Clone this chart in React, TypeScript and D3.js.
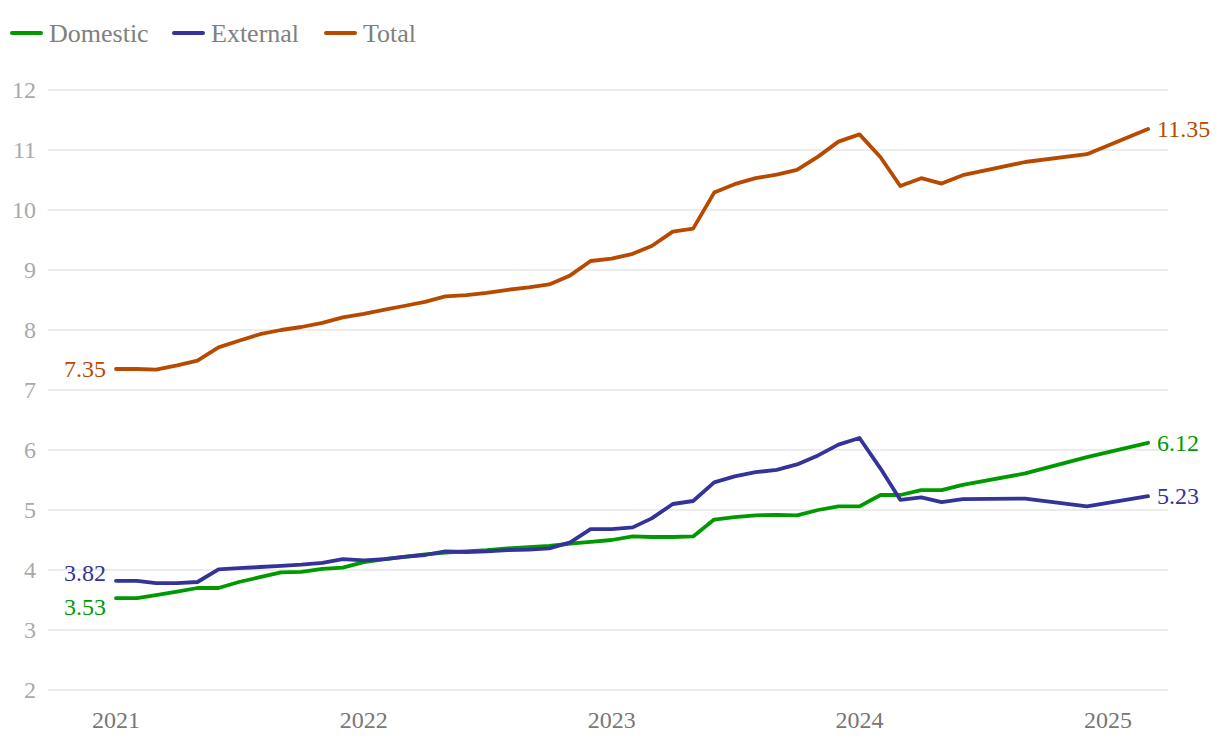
import React from "react";
import * as d3 from "d3";

// ---- data ----
const dates: string[] = [
  "2021-01", "2021-02", "2021-03", "2021-04", "2021-05", "2021-06", "2021-07", "2021-08", "2021-09", "2021-10", "2021-11", "2021-12",
  "2022-01", "2022-02", "2022-03", "2022-04", "2022-05", "2022-06", "2022-07", "2022-08", "2022-09", "2022-10", "2022-11", "2022-12",
  "2023-01", "2023-02", "2023-03", "2023-04", "2023-05", "2023-06", "2023-07", "2023-08", "2023-09", "2023-10", "2023-11", "2023-12",
  "2024-01", "2024-02", "2024-03", "2024-04", "2024-05", "2024-06", "2024-09", "2024-12", "2025-03",
];

const domestic: number[] = [
  3.53, 3.53, 3.58, 3.64, 3.70, 3.70, 3.80, 3.88, 3.96, 3.97, 4.02, 4.04,
  4.13, 4.18, 4.22, 4.26, 4.29, 4.31, 4.33, 4.36, 4.38, 4.40, 4.44, 4.47,
  4.50, 4.56, 4.55, 4.55, 4.56, 4.84, 4.88, 4.91, 4.92, 4.91, 5.00, 5.06,
  5.06, 5.25, 5.25, 5.33, 5.33, 5.42, 5.61, 5.88, 6.12,
];

const external: number[] = [
  3.82, 3.82, 3.78, 3.78, 3.80, 4.01, 4.03, 4.05, 4.07, 4.09, 4.12, 4.18,
  4.16, 4.18, 4.22, 4.25, 4.31, 4.30, 4.31, 4.33, 4.34, 4.36, 4.46, 4.68,
  4.68, 4.71, 4.86, 5.10, 5.15, 5.46, 5.56, 5.63, 5.67, 5.76, 5.91, 6.09,
  6.20, 5.69, 5.17, 5.21, 5.13, 5.18, 5.19, 5.06, 5.23,
];

const total: number[] = [
  7.35, 7.35, 7.34, 7.41, 7.49, 7.71, 7.82, 7.93, 8.00, 8.05, 8.12, 8.21,
  8.27, 8.34, 8.40, 8.47, 8.56, 8.58, 8.62, 8.67, 8.71, 8.76, 8.91, 9.15,
  9.19, 9.27, 9.40, 9.64, 9.69, 10.29, 10.43, 10.53, 10.59, 10.67, 10.89, 11.14,
  11.26, 10.88, 10.40, 10.53, 10.44, 10.58, 10.80, 10.93, 11.35,
];

const seriesNames: string[] = ["Domestic", "External", "Total"];
const seriesColors: string[] = ["#009a00", "#34339a", "#b84a00"];
const yTicks: number[] = [2, 3, 4, 5, 6, 7, 8, 9, 10, 11, 12];
const xTickYears: number[] = [2021, 2022, 2023, 2024, 2025];

const FONT = "'Liberation Serif', 'Times New Roman', serif";

export default function App() {
  const W = 1220;
  const H = 744;
  const parse = d3.utcParse("%Y-%m");
  const xDates = dates.map((d) => parse(d) as Date);

  const x = d3
    .scaleUtc()
    .domain([new Date(Date.UTC(2021, 0, 1)), new Date(Date.UTC(2025, 0, 1))])
    .range([116, 1108]);
  const y = d3.scaleLinear().domain([2, 12]).range([690, 90]);

  const gridX0 = 48;
  const gridX1 = 1168;

  const allSeries = [domestic, external, total];
  const line = d3
    .line<number>()
    .x((_, i) => x(xDates[i]))
    .y((v) => y(v));

  // label positions with simple collision resolution
  const resolve = (vals: number[], minGap: number) => {
    const items = vals.map((v, i) => ({ i, pos: y(v) }));
    items.sort((a, b) => a.pos - b.pos);
    for (let k = 1; k < items.length; k++) {
      const a = items[k - 1];
      const b = items[k];
      if (b.pos - a.pos < minGap) {
        const mid = (a.pos + b.pos) / 2;
        a.pos = mid - minGap / 2;
        b.pos = mid + minGap / 2;
      }
    }
    const out: number[] = new Array(vals.length);
    items.forEach((it) => (out[it.i] = it.pos));
    return out;
  };
  const startVals = allSeries.map((s) => s[0]);
  const endVals = allSeries.map((s) => s[s.length - 1]);
  const startPos = resolve(startVals, 34);
  const endPos = resolve(endVals, 34);

  const legendX = [12, 174, 326];

  return (
    <svg
      width={W}
      height={H}
      style={{ position: "absolute", left: 0, top: 0, background: "#fff" }}
      fontFamily={FONT}
    >
      {/* grid */}
      {yTicks.map((t) => (
        <g key={t}>
          <line x1={gridX0} x2={gridX1} y1={y(t)} y2={y(t)} stroke="#e6e6e6" strokeWidth={1.5} />
          <text x={36} y={y(t)} dy="0.34em" textAnchor="end" fontSize={24} fill="#aaaaaa">
            {t}
          </text>
        </g>
      ))}

      {/* x ticks */}
      {xTickYears.map((yr) => (
        <text
          key={yr}
          x={x(new Date(Date.UTC(yr, 0, 1)))}
          y={728}
          textAnchor="middle"
          fontSize={24}
          fill="#777777"
        >
          {yr}
        </text>
      ))}

      {/* lines */}
      {allSeries.map((s, k) => (
        <path
          key={k}
          d={line(s) || ""}
          fill="none"
          stroke={seriesColors[k]}
          strokeWidth={3.8}
          strokeLinejoin="round"
          strokeLinecap="round"
        />
      ))}

      {/* start labels */}
      {allSeries.map((s, k) => (
        <text
          key={"s" + k}
          x={106}
          y={startPos[k]}
          dy="0.34em"
          textAnchor="end"
          fontSize={24}
          fill={seriesColors[k]}
        >
          {s[0].toFixed(2)}
        </text>
      ))}

      {/* end labels */}
      {allSeries.map((s, k) => (
        <text
          key={"e" + k}
          x={x(xDates[xDates.length - 1]) + 9}
          y={endPos[k]}
          dy="0.34em"
          textAnchor="start"
          fontSize={24}
          fill={seriesColors[k]}
        >
          {s[s.length - 1].toFixed(2)}
        </text>
      ))}

      {/* legend */}
      {seriesNames.map((n, k) => (
        <g key={n}>
          <line
            x1={legendX[k]}
            x2={legendX[k] + 29}
            y1={33}
            y2={33}
            stroke={seriesColors[k]}
            strokeWidth={4}
            strokeLinecap="round"
          />
          <text x={legendX[k] + 37} y={33} dy="0.34em" fontSize={26} fill="#808080">
            {n}
          </text>
        </g>
      ))}
    </svg>
  );
}
